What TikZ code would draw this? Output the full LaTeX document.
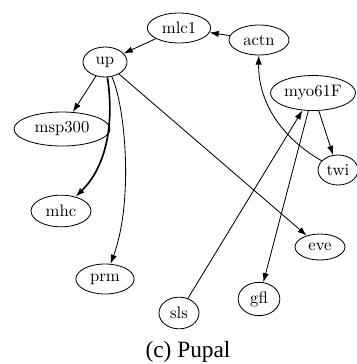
\documentclass[tikz,border=0pt]{standalone}
\usepackage{fontspec}
\newfontfamily\capfont{Liberation Serif}
\usetikzlibrary{shapes.geometric,arrows.meta}
\begin{document}
\begin{tikzpicture}[x=0.6pt,y=-0.6pt,
  nd/.style={draw,ellipse,inner sep=0pt,line width=0.5pt,font=\fontsize{10}{12}\selectfont},
  ed/.style={-{Latex[length=5.5pt,width=3.8pt]},line width=0.5pt},
  thk/.style={line width=1pt}]
\useasboundingbox (0,0) rectangle (357,364);
\node[nd,minimum width=38pt,minimum height=18pt] (mlc1) at (179,28) {mlc1};
\node[nd,minimum width=36pt,minimum height=18pt] (actn) at (259,40) {actn};
\node[nd,minimum width=26.4pt,minimum height=18pt] (up) at (105,62) {up};
\node[nd,minimum width=57.6pt,minimum height=20.4pt] (msp300) at (62,129) {msp300};
\node[nd,minimum width=51pt,minimum height=21pt] (myo61F) at (313,93) {myo61F};
\node[nd,minimum width=24pt,minimum height=18pt] (twi) at (338,170) {twi};
\node[nd,minimum width=36pt,minimum height=19pt] (mhc) at (61,211) {mhc};
\node[nd,minimum width=35pt,minimum height=18pt] (prm) at (105,279) {prm};
\node[nd,minimum width=30pt,minimum height=15.6pt] (eve) at (320,247) {eve};
\node[nd,minimum width=25pt,minimum height=20pt] (gfl) at (259,299) {gfl};
\node[nd,minimum width=24pt,minimum height=19pt] (sls) at (179,313) {sls};
\node[font=\capfont\fontsize{14}{16}\selectfont] (cap) at (188,352) {(c) Pupal};
\draw[ed] (mlc1) -- (up);
\draw[ed] (actn) -- (mlc1);
\draw[ed] (up) -- (msp300);
\draw[ed,thk] (up) .. controls (114,120) and (108,165) .. (mhc);
\draw[ed] (up) .. controls (125,105) and (134,200) .. (prm);
\draw[ed] (up) -- (eve);
\draw[ed] (twi) .. controls (285,140) and (258,105) .. (actn);
\draw[ed] (myo61F) -- (twi);
\draw[ed] (myo61F) -- (gfl);
\draw[ed] (sls) -- (myo61F);
\end{tikzpicture}
\end{document}
